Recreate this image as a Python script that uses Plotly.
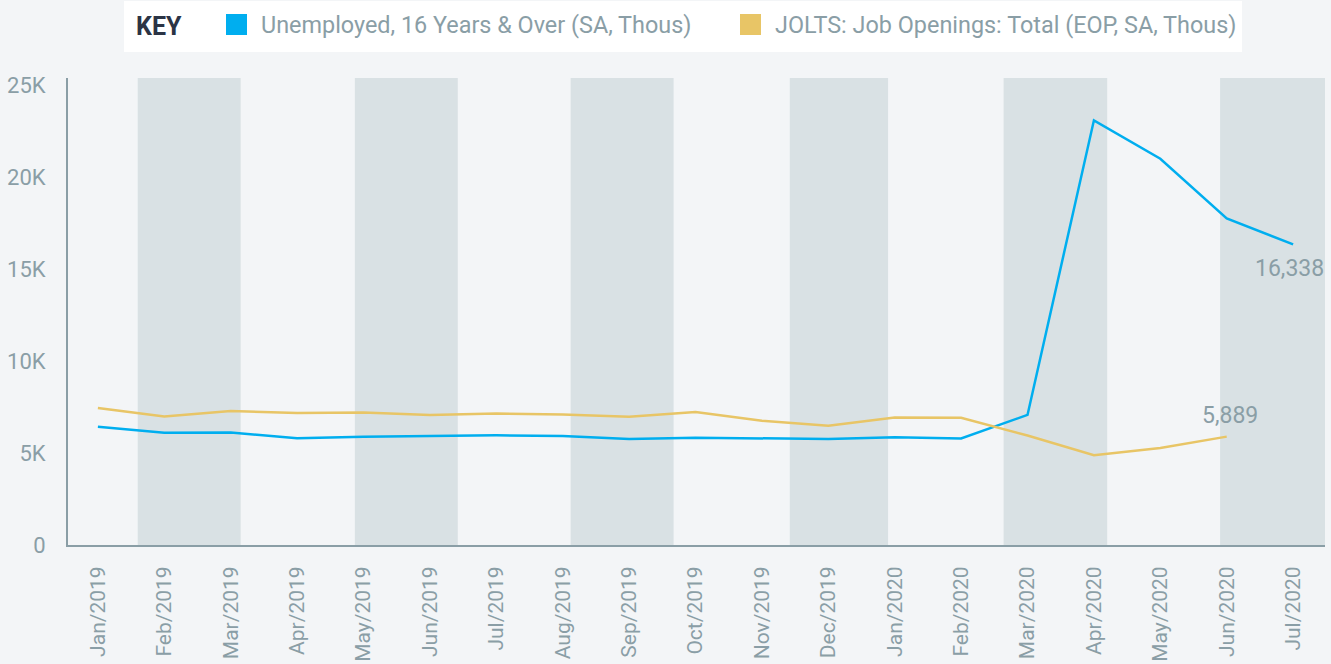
import plotly.graph_objects as go

months = ["Jan/2019","Feb/2019","Mar/2019","Apr/2019","May/2019","Jun/2019","Jul/2019",
          "Aug/2019","Sep/2019","Oct/2019","Nov/2019","Dec/2019","Jan/2020","Feb/2020",
          "Mar/2020","Apr/2020","May/2020","Jun/2020","Jul/2020"]
unemployed = [6420, 6100, 6110, 5800, 5880, 5920, 5960, 5930, 5760, 5830, 5800, 5760,
              5850, 5790, 7070, 23080, 20990, 17750, 16338]
jolts = [7450, 6980, 7280, 7170, 7200, 7070, 7150, 7090, 6970, 7230, 6750, 6480,
         6930, 6910, 5950, 4880, 5270, 5889]
# alternating background bands (month-index units)
bands = [(0.6, 2.15), (3.87, 5.42), (7.12, 8.67), (10.42, 11.9), (13.64, 15.2), (16.9, 18.6)]
yticks = [0, 5000, 10000, 15000, 20000, 25000]
yticktext = ["0", "5K", "10K", "15K", "20K", "25K"]

BLUE = "#00aeef"
YELLOW = "#e8c566"
GREY = "#8a9ea6"
BG = "#f3f5f7"
BAND = "#d9e1e4"
FONT = "Roboto"

W, H = 1331, 664
L, R, T, B = 68, 6, 78, 119
pw, ph = W - L - R, H - T - B
def px(x): return (x - L) / pw
def py(y): return (H - B - y) / ph

xi = list(range(len(months)))
fig = go.Figure()
fig.add_trace(go.Scatter(x=xi, y=unemployed, mode="lines", line=dict(color=BLUE, width=2.5),
                         showlegend=False, hoverinfo="skip"))
fig.add_trace(go.Scatter(x=xi[:len(jolts)], y=jolts, mode="lines", line=dict(color=YELLOW, width=2.5),
                         showlegend=False, hoverinfo="skip"))

shapes = []
for a, b in bands:
    shapes.append(dict(type="rect", xref="x", yref="paper", x0=a, x1=b, y0=0, y1=1,
                       fillcolor=BAND, line=dict(width=0), layer="below"))
# legend box
shapes.append(dict(type="rect", xref="paper", yref="paper", x0=px(124), x1=px(1242),
                   y0=py(52), y1=py(1), fillcolor="white", line=dict(width=0)))
shapes.append(dict(type="rect", xref="paper", yref="paper", x0=px(226), x1=px(247),
                   y0=py(35), y1=py(14), fillcolor=BLUE, line=dict(width=0)))
shapes.append(dict(type="rect", xref="paper", yref="paper", x0=px(740), x1=px(761),
                   y0=py(35), y1=py(14), fillcolor=YELLOW, line=dict(width=0)))

annotations = [
    dict(xref="paper", yref="paper", x=px(134), y=py(26), text="<b>KEY</b>", showarrow=False,
         xanchor="left", yanchor="middle", font=dict(family=FONT, size=25, color="#2b3445")),
    dict(xref="paper", yref="paper", x=px(259), y=py(25), text="Unemployed, 16 Years & Over (SA, Thous)",
         showarrow=False, xanchor="left", yanchor="middle", font=dict(family=FONT, size=23.4, color=GREY)),
    dict(xref="paper", yref="paper", x=px(773), y=py(25), text="JOLTS: Job Openings: Total (EOP, SA, Thous)",
         showarrow=False, xanchor="left", yanchor="middle", font=dict(family=FONT, size=23.4, color=GREY)),
    dict(x=xi[-1], y=unemployed[-1], text=f"{unemployed[-1]:,}", showarrow=False, xanchor="center",
         yanchor="middle", xshift=-4, yshift=-24, font=dict(family=FONT, size=23, color=GREY)),
    dict(x=len(jolts) - 1, y=jolts[-1], text=f"{jolts[-1]:,}", showarrow=False, xanchor="center",
         yanchor="middle", xshift=3, yshift=21, font=dict(family=FONT, size=23, color=GREY)),
]

fig.update_layout(
    width=W, height=H, margin=dict(l=L, r=R, t=T, b=B, autoexpand=False),
    paper_bgcolor=BG, plot_bgcolor=BG, shapes=shapes, annotations=annotations,
    font=dict(family=FONT, color=GREY), hovermode=False,
    xaxis=dict(range=[-0.45, 18.48], tickvals=xi, ticktext=months, tickangle=-90, automargin=False,
               showgrid=False, zeroline=False, showline=True, linecolor=GREY, linewidth=2,
               ticks="", tickfont=dict(family=FONT, size=21, color=GREY), ticklabelstandoff=11),
    yaxis=dict(range=[0, 25380], tickvals=yticks, ticktext=yticktext, showgrid=False, automargin=False,
               zeroline=False, showline=True, linecolor=GREY, linewidth=2, ticks="",
               tickfont=dict(family=FONT, size=22, color=GREY), ticklabelstandoff=16),
)
fig.write_html("out.html", config={"displayModeBar": False},
               post_script="document.body.style.margin='0';document.body.style.overflow='hidden';")
